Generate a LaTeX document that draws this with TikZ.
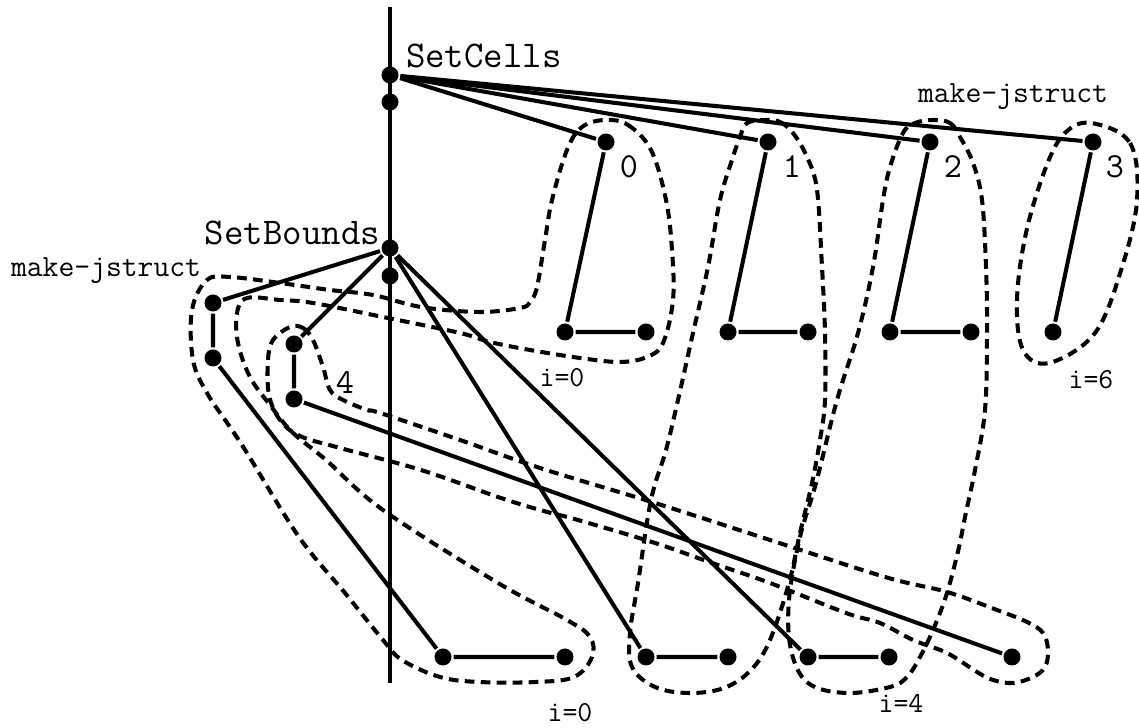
\documentclass[tikz,border=0pt]{standalone}
\usepackage{tikz}

\begin{document}
\begin{tikzpicture}[line width=2.3pt,
  dot/.style={circle,fill=black,inner sep=0pt,minimum size=3.4mm},
  grp/.style={line width=2.3pt,dash pattern=on 5.5pt off 3.6pt},
  big/.style={font=\ttfamily\fontsize{21.5}{24}\selectfont,inner sep=0pt},
  sml/.style={font=\ttfamily\fontsize{17.5}{20}\selectfont,inner sep=0pt},
  idx/.style={font=\ttfamily\fontsize{16.5}{18}\selectfont,inner sep=0pt},
  num/.style={font=\ttfamily\fontsize{20}{22}\selectfont,inner sep=0pt}]
\useasboundingbox (0,0) rectangle (22.78,14.56);
% dashed groups
\draw[grp] plot[smooth cycle,tension=0.6] coordinates {(12.10,12.16) (12.56,12.06) (13.02,11.56) (13.32,10.56) (13.44,9.56) (13.46,8.56) (13.26,7.70) (12.94,7.42) (12.40,7.32) (11.60,7.40) (10.60,7.56) (9.80,7.72) (9.20,7.90) (7.66,8.22) (6.26,8.50) (5.60,8.56) (4.94,8.60) (4.74,8.30) (4.76,7.70) (5.00,7.02) (5.40,6.46) (5.84,5.92) (6.52,5.36) (7.66,4.36) (9.96,2.90) (11.34,2.16) (11.80,1.82) (11.84,1.42) (11.48,1.02) (10.72,0.92) (9.58,0.92) (8.80,1.02) (8.04,1.36) (7.66,1.76) (6.90,2.70) (5.98,3.82) (4.94,5.50) (4.60,6.02) (4.14,6.70) (3.86,7.36) (3.84,8.36) (4.14,8.96) (4.60,9.02) (5.60,8.90) (6.60,8.76) (7.46,8.66) (8.42,8.42) (9.58,8.32) (10.40,8.40) (10.60,8.52) (10.74,8.82) (10.90,9.76) (11.04,10.56) (11.34,11.56) (11.64,12.02)};
\draw[grp] plot[smooth cycle,tension=0.6] coordinates {(15.34,12.16) (15.60,12.12) (15.86,11.90) (16.14,11.42) (16.34,10.76) (16.44,9.22) (16.50,7.90) (16.50,6.56) (16.40,5.76) (16.24,4.90) (16.00,3.90) (15.78,2.90) (15.40,1.76) (15.02,1.16) (14.48,0.80) (13.78,0.70) (13.10,0.82) (12.64,1.22) (12.60,1.90) (12.76,2.90) (13.02,4.56) (13.32,5.56) (13.56,6.56) (13.86,7.90) (14.16,9.22) (14.40,10.56) (14.66,11.42) (14.80,11.82) (14.94,12.10)};
\draw[grp] plot[smooth cycle,tension=0.6] coordinates {(18.66,12.16) (19.00,12.10) (19.20,11.82) (19.46,11.30) (19.64,10.56) (19.72,9.22) (19.74,7.90) (19.70,6.36) (19.50,5.16) (19.30,4.22) (19.20,3.70) (18.94,2.70) (18.66,1.96) (18.40,1.42) (18.14,1.02) (17.80,0.82) (16.92,0.70) (16.16,0.90) (15.82,1.56) (15.78,2.56) (16.00,3.82) (16.32,4.90) (16.74,6.56) (17.16,7.90) (17.46,9.22) (17.66,10.56) (17.80,11.22) (18.06,11.90) (18.30,12.10)};
\draw[grp] plot[smooth cycle,tension=0.6] coordinates {(21.82,12.10) (22.60,11.70) (22.74,10.56) (22.44,9.22) (21.90,7.90) (20.98,7.30) (20.46,7.56) (20.34,8.56) (20.52,9.90) (20.92,11.22) (21.30,11.90)};
\draw[grp] plot[smooth cycle,tension=0.6] coordinates {(5.80,8.02) (6.06,8.00) (6.26,7.76) (6.46,7.22) (6.60,6.76) (6.86,6.56) (7.34,6.36) (7.60,6.30) (9.20,5.76) (10.80,5.20) (13.10,4.50) (15.40,3.76) (17.70,3.02) (18.94,2.72) (19.94,2.36) (20.54,2.12) (20.86,1.90) (20.96,1.56) (20.90,1.22) (20.66,1.02) (20.26,0.90) (19.86,0.96) (19.54,1.12) (18.94,1.50) (18.26,1.76) (17.60,2.10) (16.92,2.30) (15.40,2.90) (14.24,3.30) (13.10,3.70) (11.56,4.16) (10.80,4.36) (9.96,4.62) (8.42,5.16) (6.80,5.60) (6.00,5.84) (5.60,6.16) (5.38,6.66) (5.36,7.36) (5.46,7.76)};
% axis
\coordinate (vtop) at (7.80,14.42);
\coordinate (vbot) at (7.80,0.90);
\draw (vtop) -- (vbot);
% dots
\node[dot] (sc) at (7.80,13.06) {};
\node[dot] (sc2) at (7.80,12.52) {};
\node[dot] (sb) at (7.80,9.60) {};
\node[dot] (sb2) at (7.80,9.04) {};
\node[dot] (a0) at (12.12,11.72) {};
\node[dot] (b0) at (11.30,7.92) {};
\node[dot] (c0) at (12.92,7.92) {};
\node[dot] (a1) at (15.36,11.72) {};
\node[dot] (b1) at (14.56,7.92) {};
\node[dot] (c1) at (16.16,7.92) {};
\node[dot] (a2) at (18.60,11.72) {};
\node[dot] (b2) at (17.80,7.92) {};
\node[dot] (c2) at (19.42,7.92) {};
\node[dot] (a3) at (21.86,11.72) {};
\node[dot] (b3) at (21.06,7.92) {};
\node[dot] (l1) at (4.26,8.50) {};
\node[dot] (l2) at (4.26,7.40) {};
\node[dot] (f1) at (5.88,7.68) {};
\node[dot] (f2) at (5.88,6.58) {};
\node[dot] (p0) at (8.86,1.42) {};
\node[dot] (q0) at (11.30,1.42) {};
\node[dot] (p1) at (12.92,1.42) {};
\node[dot] (q1) at (14.56,1.42) {};
\node[dot] (p2) at (16.16,1.42) {};
\node[dot] (q2) at (17.78,1.42) {};
\node[dot] (f3) at (20.24,1.42) {};
% edges
\draw (sc) -- (a0) -- (b0) -- (c0);
\draw (sc) -- (a1) -- (b1) -- (c1);
\draw (sc) -- (a2) -- (b2) -- (c2);
\draw (sc) -- (a3) -- (b3);
\draw (sb) -- (l1) -- (l2) -- (p0) -- (q0);
\draw (sb) -- (f1) -- (f2) -- (f3);
\draw (sb) -- (p1) -- (q1);
\draw (sb) -- (p2) -- (q2);
% labels
\node[big,anchor=base west] (tcells) at (8.08,13.20) {SetCells};
\node[big,anchor=base east] (tbounds) at (7.64,9.66) {SetBounds};
\node[sml,anchor=base west] (mkleft) at (0.18,9.02) {make-jstruct};
\node[sml,anchor=base west] (mkright) at (18.32,12.50) {make-jstruct};
\node[num] (n0) at (12.58,11.22) {0};
\node[num] (n1) at (15.84,11.22) {1};
\node[num] (n2) at (19.06,11.22) {2};
\node[num] (n3) at (22.30,11.22) {3};
\node[num] (n4) at (6.90,6.90) {4};
\node[idx] (i0a) at (11.24,7.00) {i=0};
\node[idx] (i6) at (21.82,6.96) {i=6};
\node[idx] (i0b) at (11.40,0.30) {i=0};
\node[idx] (i4) at (18.02,0.50) {i=4};
\end{tikzpicture}
\end{document}
